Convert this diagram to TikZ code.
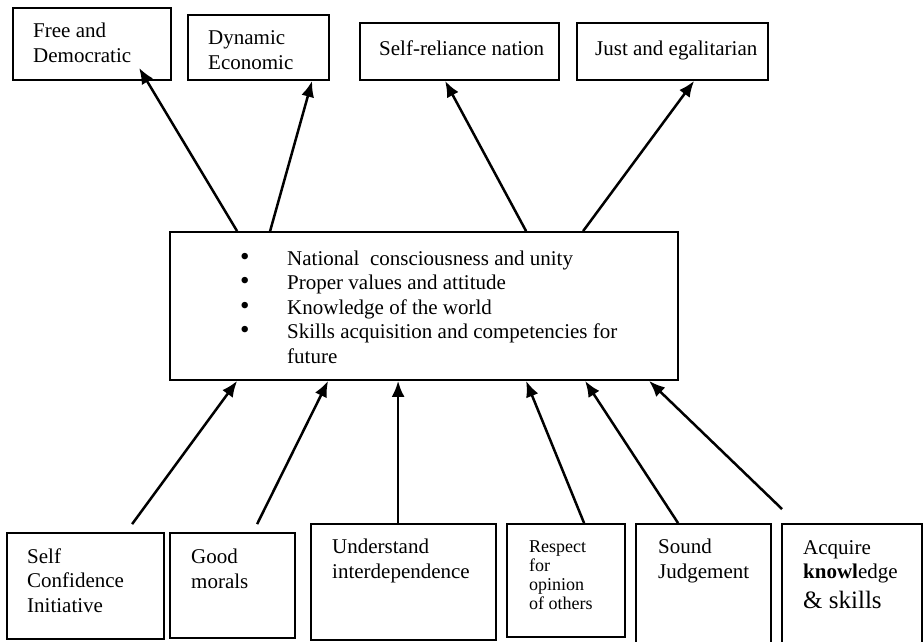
\documentclass[tikz,border=0pt]{standalone}
\usepackage{fontspec}
\setmainfont{Liberation Serif}
\usetikzlibrary{arrows.meta,positioning,calc}
\newcommand{\bul}{{\fontsize{27}{24.5}\selectfont\textbullet}}

\begin{document}
\begin{tikzpicture}[x=1pt,y=-1pt,font=\fontsize{21}{24.5}\selectfont,
  ar/.style={-{Latex[length=16pt,width=13pt]},line width=2.5pt},
  bx/.style={draw,line width=1.8pt,inner sep=0pt},
  lab/.style={anchor=base west,inner sep=0pt},
  ml/.style={lab,align=left}]
\useasboundingbox (0,0) rectangle (924,641);

% aims (top row)
\node[bx,minimum width=158pt,minimum height=72pt] (fd) at (92,44) {};
\node[bx,minimum width=141pt,minimum height=65pt] (de) at (258.5,47.5) {};
\node[bx,minimum width=199pt,minimum height=57pt] (sr) at (459.5,51.5) {};
\node[bx,minimum width=191pt,minimum height=57pt] (ju) at (672.5,51.5) {};
\node[ml] (fdt) at (33,62) {Free and\\Democratic};
\node[ml] (det) at (208,69) {Dynamic\\Economic};
\node[lab] (srt) at (379,55) {Self-reliance nation};
\node[lab] (jut) at (595,55) {Just and egalitarian};

% goals
\node[bx,minimum width=508pt,minimum height=148pt] (mid) at (424,306) {};
\node[lab] (midt) at (240,265) {\begin{tabular}[t]{@{}p{47pt}@{}l@{}}
  \bul & National\ \ consciousness and unity\\
  \bul & Proper values and attitude\\
  \bul & Knowledge of the world\\
  \bul & Skills acquisition and competencies for\\
       & future
\end{tabular}};

% values (bottom row)
\node[bx,minimum width=157pt,minimum height=106pt] (sc) at (85.5,586) {};
\node[bx,minimum width=125pt,minimum height=105pt] (gm) at (232.5,585.5) {};
\node[bx,minimum width=185pt,minimum height=116pt] (ui) at (403.5,582) {};
\node[bx,minimum width=118pt,minimum height=113pt] (ro) at (566,580.5) {};
\node[bx,minimum width=135pt,minimum height=128pt] (sj) at (703.5,588) {};
\node[bx,minimum width=140pt,minimum height=128pt] (ak) at (852,588) {};
\node[ml] (sct) at (27,612) {Self\\Confidence\\Initiative};
\node[ml] (gmt) at (191,588) {Good\\morals};
\node[ml] (uit) at (332,578) {Understand\\interdependence};
\node[ml,font=\fontsize{18}{19}\selectfont] (rot) at (529,609) {Respect\\for\\opinion\\of others};
\node[ml] (sjt) at (658,578) {Sound\\Judgement};
\node[ml] (akt) at (803,608) {Acquire\\\textbf{knowl}edge\\[5pt]{\fontsize{25}{30}\selectfont\& skills}};

% arrow ends
\coordinate (m1) at ($(mid.north west)+(68,0)$);
\coordinate (m2) at ($(mid.north west)+(101,0)$);
\coordinate (m3) at ($(mid.north west)+(357,0)$);
\coordinate (m4) at ($(mid.north west)+(414,0)$);
\coordinate (fdin) at ($(fd.south west)+(127,-13)$);
\coordinate (dein) at ($(de.south west)+(125,0)$);
\coordinate (srin) at ($(sr.south west)+(86,0)$);
\coordinate (juin) at ($(ju.south west)+(118,0)$);
\coordinate (n1) at ($(mid.south west)+(68,0)$);
\coordinate (n2) at ($(mid.south west)+(159,0)$);
\coordinate (n3) at ($(mid.south west)+(229,0)$);
\coordinate (n4) at ($(mid.south west)+(357,0)$);
\coordinate (n5) at ($(mid.south west)+(416,0)$);
\coordinate (n6) at ($(mid.south west)+(480,0)$);
\coordinate (scout) at ($(sc.north west)+(126,-8)$);
\coordinate (gmout) at ($(gm.north west)+(88,-8)$);
\coordinate (uiout) at ($(ui.north west)+(88,0)$);
\coordinate (roout) at ($(ro.north west)+(78,0)$);
\coordinate (sjout) at ($(sj.north west)+(43,0)$);
\coordinate (akout) at ($(ak.north west)+(1,-14)$);

\draw[ar] (m1)--(fdin); \draw[ar] (m2)--(dein);
\draw[ar] (m3)--(srin); \draw[ar] (m4)--(juin);
\draw[ar] (scout)--(n1); \draw[ar] (gmout)--(n2); \draw[ar] (uiout)--(n3);
\draw[ar] (roout)--(n4); \draw[ar] (sjout)--(n5); \draw[ar] (akout)--(n6);
\end{tikzpicture}
\end{document}
